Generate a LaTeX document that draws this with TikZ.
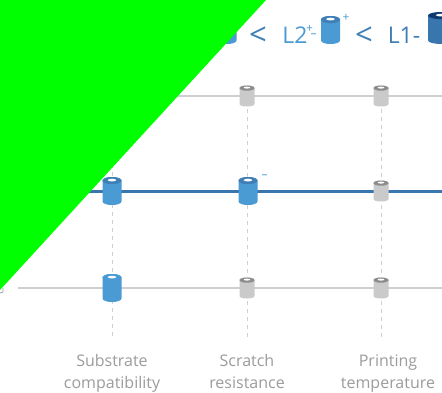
\documentclass[tikz,border=0pt]{standalone}
\usepackage{fontspec}
\setmainfont{Open Sans}
\definecolor{blueA}{HTML}{4A9AD4}
\definecolor{blueB}{HTML}{3F7FB5}
\definecolor{blueC}{HTML}{3A76AE}
\definecolor{blueD}{HTML}{0F3A70}
\definecolor{greyA}{HTML}{C9CAC9}
\definecolor{greyB}{HTML}{8C8C8C}
\definecolor{greyT}{HTML}{9C9C9C}
\definecolor{lineG}{HTML}{CFCFCF}
\newcommand{\cyl}[6]{% centre, half width, half height, body, top, rim-ry
  \begin{scope}[shift={(#1)}]
    \fill[#4] (-#2,-#3+#6) -- (-#2,#3-#6)
       .. controls (-#2,#3+0.33*#6) and (#2,#3+0.33*#6) .. (#2,#3-#6)
       -- (#2,-#3+#6)
       .. controls (#2,-#3-0.33*#6) and (-#2,-#3-0.33*#6) .. (-#2,-#3+#6) -- cycle;
    \fill[#5] (0,-#3+#6) ellipse[x radius=#2,y radius=#6];
    \fill[white] (0,-#3+#6-0.5) ellipse[x radius=#2*0.45,y radius=#6*0.38];
  \end{scope}}
\tikzset{
  rowgrey/.style={draw=lineG,line width=1.5pt},
  rowblue/.style={draw=blueC,line width=3pt},
  col/.style={draw=lineG,line width=0.9pt,dash pattern=on 4pt off 4pt},
  axis/.style={text=greyT,font=\fontsize{16}{22}\selectfont,align=center,inner sep=0pt},
  head/.style={text=blueB,font=\fontsize{23}{24}\selectfont,inner sep=0pt},
  headb/.style={text=blueA,font=\fontsize{23}{24}\selectfont,inner sep=0pt},
  less/.style={text=blueB,font=\fontsize{31}{32}\selectfont,inner sep=0pt},
  sm/.style={font=\fontsize{12}{12}\selectfont,inner sep=0pt},
}
\begin{document}
\begin{tikzpicture}[x=1pt,y=-1pt]
\useasboundingbox (0,0) rectangle (442,392);
\fill[white] (0,0) rectangle (442,392);
% anchors
\coordinate (r1a) at (0,96);   \coordinate (r1b) at (442,96);
\coordinate (r2a) at (0,191);  \coordinate (r2b) at (442,191);
\coordinate (r3a) at (18,288); \coordinate (r3b) at (442,288);
\coordinate (c1a) at (112,60); \coordinate (c1b) at (112,339);
\coordinate (c2a) at (247,85); \coordinate (c2b) at (247,339);
\coordinate (c3a) at (381,85); \coordinate (c3b) at (381,339);
% columns
\draw[col] (c1a) -- (c1b);
\draw[col] (c2a) -- (c2b);
\draw[col] (c3a) -- (c3b);
% rows
\draw[rowgrey] (r1a) -- (r1b);
\draw[rowgrey] (r3a) -- (r3b);
\draw[rowblue] (r2a) -- (r2b);
% cylinders
\cyl{112,191}{9.5}{14}{blueA}{blueB}{3.6}
\cyl{248,191}{9.5}{14}{blueA}{blueB}{3.6}
\cyl{112,288}{9.5}{14}{blueA}{blueA}{3.6}
\cyl{247,96}{7.5}{10.5}{greyA}{greyB}{2.6}
\cyl{381,96}{7.5}{10.5}{greyA}{greyB}{2.6}
\cyl{381,191}{7.5}{10.5}{greyA}{greyB}{2.6}
\cyl{247,288}{7.5}{10.5}{greyA}{greyB}{2.6}
\cyl{381,288}{7.5}{10.5}{greyA}{greyB}{2.6}
\cyl{227,30}{9.5}{14}{blueA}{blueB}{3.6}
\cyl{330.5,30}{9.5}{14}{blueA}{blueB}{3.6}
\cyl{442,28}{14}{16}{blueC}{blueD}{3.6}
% header
\node[less] (lt1) at (258,36.5) {<};
\node[headb] (l2) at (295,35) {L2};
\node[headb,sm] (l2p) at (309.5,29) {+};
\node[headb,sm] (l2m) at (313.5,36) {–};
\node[headb,sm] (l2q) at (346,18) {+};
\node[less] (lt2) at (364,36.5) {<};
\node[head] (l1) at (404,35) {L1-};
\node[headb,sm] (mn) at (264.5,177) {–};
% axis labels
\node[axis] (a1) at (112,373) {\strut Substrate\\\strut compatibility};
\node[axis] (a2) at (247,373) {\strut Scratch\\\strut resistance};
\node[axis] (a3) at (388,373) {\strut Printing\\\strut temperature};
% clipped trace at the left edge
\draw[greyT,line width=0.8pt] (0,293) -- (3,292) -- (3,288);
% mask
\fill[green] (0,0) -- (266,0) -- (0,290) -- cycle;
\end{tikzpicture}
\end{document}
